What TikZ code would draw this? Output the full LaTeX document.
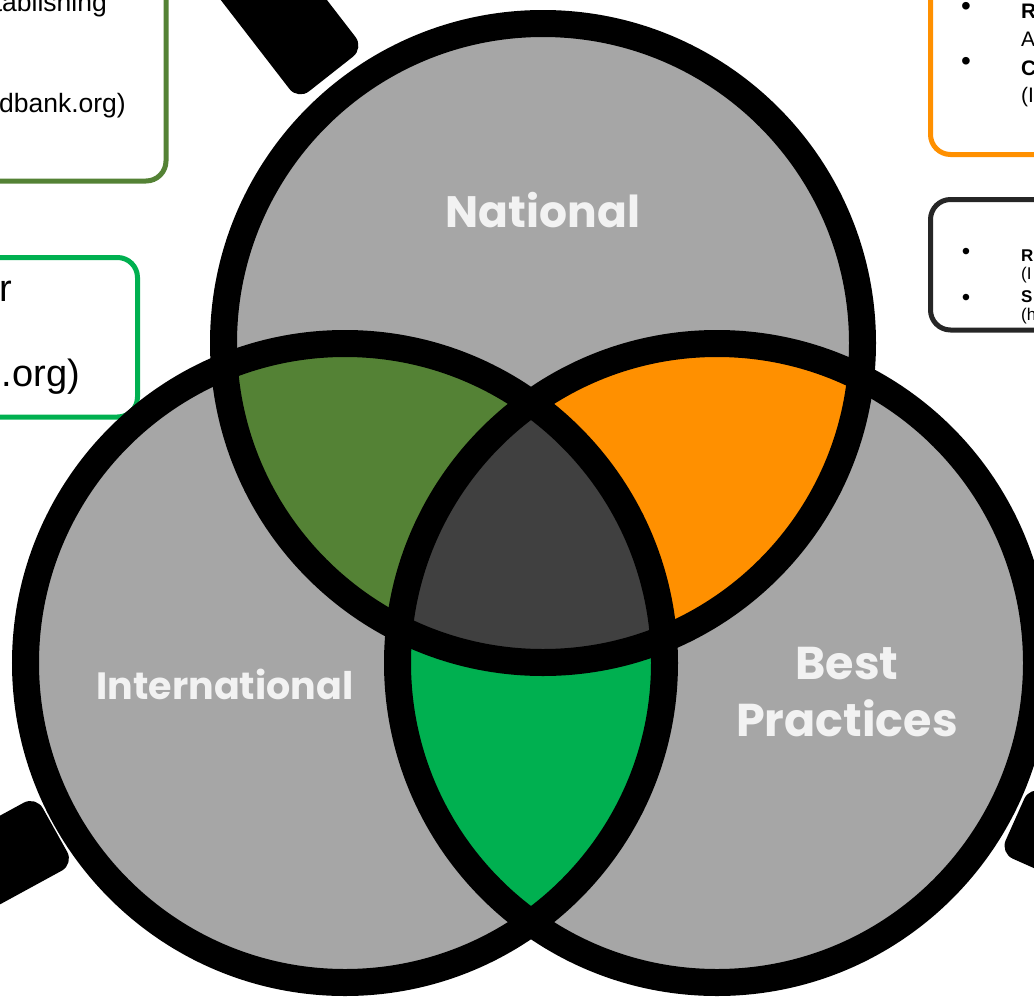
\documentclass[tikz,border=0pt]{standalone}
\usepackage{fontspec}
\setmainfont{Liberation Sans}
\newfontfamily\vennfont{Poppins}
\usepackage{tikz}
\definecolor{venngray}{HTML}{A6A6A6}
\definecolor{natintl}{HTML}{548235}
\definecolor{natbest}{HTML}{FF9000}
\definecolor{intlbest}{HTML}{00B050}
\definecolor{allthree}{HTML}{404040}
\definecolor{labelwhite}{HTML}{F2F2F2}
\definecolor{boxdark}{HTML}{262626}

\begin{document}
\begin{tikzpicture}[x=1pt,y=-1pt,
    ring/.style={draw=black, line width=27pt},
    boxline/.style={line width=5pt, rounded corners=20pt, fill=white},
    vennlabel/.style={text=labelwhite, align=center,
        font=\vennfont\bfseries\fontsize{#1}{57}\selectfont},
    bigtxt/.style={inner sep=0pt, font=\fontsize{26.5}{30}\selectfont},
    hugetxt/.style={inner sep=0pt, font=\fontsize{38}{44}\selectfont},
    midtxt/.style={inner sep=0pt, font=\fontsize{21}{25}\selectfont},
    smalltxt/.style={inner sep=0pt, font=\fontsize{17}{20}\selectfont},
    bullet/.style={inner sep=0pt, font=\fontsize{#1}{#1}\selectfont}]
    % Canvas
    \useasboundingbox (0,0) rectangle (1034,999);
    \clip (0,0) rectangle (1034,999);

    % Boxes
    \draw[boxline, draw=natintl] (-30,-30) rectangle (166,181);
    \draw[boxline, draw=intlbest] (-30,257.5) rectangle (137.5,417);
    \draw[boxline, draw=natbest] (930.5,-30) rectangle (1070,154.5);
    \draw[boxline, draw=boxdark] (930.5,199.5) rectangle (1070,330);

    % Box texts
    \node[bigtxt, anchor=base east] (ngtop) at (107,11) {tablishing};
    \node[bigtxt, anchor=base east] (ngurl) at (126,112) {dbank.org)};
    \node[hugetxt, anchor=base west] (lgtop) at (-1,301) {r};
    \node[hugetxt, anchor=base east] (lgurl) at (80,386) {.org)};

    \node[bullet=28] (obulla) at (966,9) {•};
    \node[bullet=28] (obullb) at (966,64) {•};
    \node[midtxt, anchor=base west] (oa) at (1021,18) {\bfseries R};
    \node[midtxt, anchor=base west] (ob) at (1021,46) {A};
    \node[midtxt, anchor=base west] (oc) at (1021,75) {\bfseries C};
    \node[midtxt, anchor=base west] (od) at (1021,102) {(I};

    \node[bullet=24] (dbulla) at (966,254) {•};
    \node[bullet=24] (dbullb) at (966,300) {•};
    \node[smalltxt, anchor=base west] (da) at (1021,261) {\bfseries R};
    \node[smalltxt, anchor=base west] (db) at (1021,279) {(I};
    \node[smalltxt, anchor=base west] (dc) at (1021,302) {\bfseries S};
    \node[smalltxt, anchor=base west] (dd) at (1021,320) {(h};

    % Bands
    \fill[black, rounded corners=14pt] (298,100) -- (364,48) -- (242,-110) -- (176,-58) -- cycle;
    \fill[black, rounded corners=14pt] (74,864) -- (36,796) -- (-140,892) -- (-102,960) -- cycle;
    \fill[black, rounded corners=14pt] (1000,853) -- (1030,786) -- (1210,866) -- (1180,933) -- cycle;

    % Circles
    \coordinate (nat) at (543,343);
    \coordinate (intl) at (345,663);
    \coordinate (best) at (717,663);
    \fill[venngray] (nat) circle (319.5pt);
    \fill[venngray] (intl) circle (319.5pt);
    \fill[venngray] (best) circle (319.5pt);

    % Overlaps
    \begin{scope}
        \clip (nat) circle (319.5pt);
        \fill[natintl] (intl) circle (319.5pt);
        \fill[natbest] (best) circle (319.5pt);
    \end{scope}
    \begin{scope}
        \clip (intl) circle (319.5pt);
        \fill[intlbest] (best) circle (319.5pt);
        \clip (best) circle (319.5pt);
        \fill[allthree] (nat) circle (319.5pt);
    \end{scope}

    % Rings
    \draw[ring] (nat) circle (319.5pt);
    \draw[ring] (intl) circle (319.5pt);
    \draw[ring] (best) circle (319.5pt);

    % Labels
    \node[vennlabel=44] (natlabel) at (543,210) {National};
    \node[vennlabel=38] (intllabel) at (225,684) {International};
    \node[vennlabel=46] (bestlabel) at (847,692) {Best\\Practices};
\end{tikzpicture}
\end{document}
